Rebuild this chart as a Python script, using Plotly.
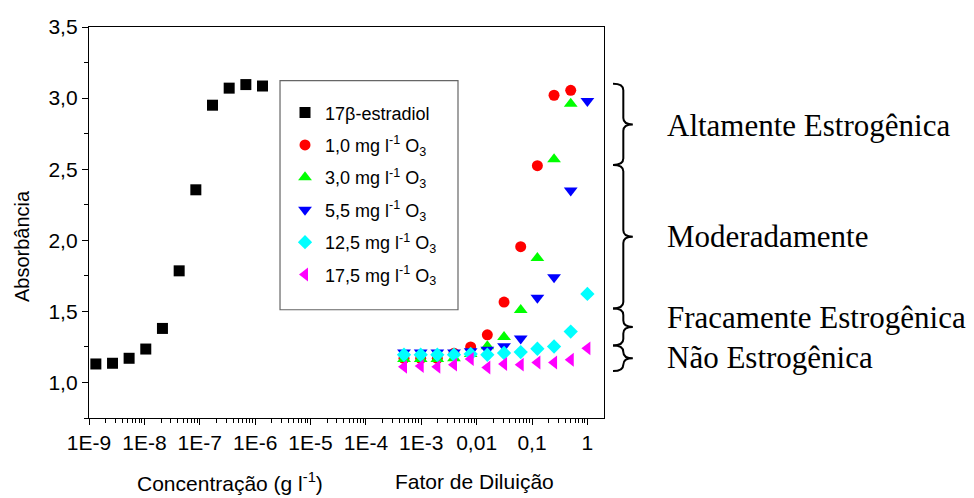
import plotly.graph_objects as go

# ---------------- data ----------------
estradiol_conc = [1.33e-9, 2.66e-9, 5.3e-9, 1.06e-8, 2.12e-8, 4.25e-8,
                  8.5e-8, 1.7e-7, 3.4e-7, 6.8e-7, 1.36e-6]
estradiol_abs = [1.13, 1.135, 1.17, 1.235, 1.38, 1.785,
                 2.355, 2.95, 3.07, 3.095, 3.085]

dilution = [0.000488, 0.000977, 0.00195, 0.0039, 0.0078, 0.0156,
            0.03125, 0.0625, 0.125, 0.25, 0.5, 1.0]
abs_o3_1_0 = [1.17, 1.17, 1.17, 1.205, 1.25, 1.335, 1.565, 1.955, 2.525, 3.02, 3.055]
abs_o3_3_0 = [1.165, 1.165, 1.165, 1.17, 1.20, 1.255, 1.32, 1.51, 1.875, 2.57, 2.96]
abs_o3_5_5 = [1.21, 1.21, 1.21, 1.21, 1.22, 1.23, 1.255, 1.31, 1.595, 1.74, 2.35, 2.98]
abs_o3_12_5 = [1.195, 1.195, 1.195, 1.195, 1.2, 1.195, 1.207, 1.214, 1.237, 1.253, 1.358, 1.623]
abs_o3_17_5 = [1.11, 1.115, 1.11, 1.125, 1.165, 1.105, 1.13, 1.125, 1.14, 1.14, 1.16, 1.24]

series_names = ["17&#946;-estradiol",
                "1,0 mg l<sup>-1</sup> O<sub>3</sub>",
                "3,0 mg l<sup>-1</sup> O<sub>3</sub>",
                "5,5 mg l<sup>-1</sup> O<sub>3</sub>",
                "12,5 mg l<sup>-1</sup> O<sub>3</sub>",
                "17,5 mg l<sup>-1</sup> O<sub>3</sub>"]

x_tickvals = [1e-9, 1e-8, 1e-7, 1e-6, 1e-5, 1e-4, 1e-3, 1e-2, 1e-1, 1]
x_ticktext = ["1E-9", "1E-8", "1E-7", "1E-6", "1E-5", "1E-4", "1E-3", "0,01", "0,1", "1"]

# estrogenicity bands: boundaries (absorbance) and labels with label heights
band_bounds = [(3.10, 2.53), (2.53, 1.52), (1.52, 1.26), (1.26, 1.08)]
band_labels = ["Altamente Estrogênica", "Moderadamente",
               "Fracamente Estrogênica", "Não Estrogênica"]
band_label_y = [2.81, 2.025, 1.46, 1.175]

# ---------------- figure ----------------
fig = go.Figure()

xs = [estradiol_conc, dilution[:11], dilution[:11], dilution, dilution, dilution]
ys = [estradiol_abs, abs_o3_1_0, abs_o3_3_0, abs_o3_5_5, abs_o3_12_5, abs_o3_17_5]
colors = ["#000000", "#FF0000", "#00FF00", "#0000FF", "#00FFFF", "#FF00FF"]
symbols = ["square", "circle", "triangle-up", "triangle-down", "diamond", "triangle-left"]
sizes = [11, 11, 12, 12, 11, 12]

for i in range(6):
    fig.add_trace(go.Scatter(
        x=xs[i], y=ys[i], mode="markers", name=series_names[i],
        legendgroup=f"g{i}",
        marker=dict(symbol=symbols[i], color=colors[i], size=sizes[i],
                    line=dict(width=0)),
    ))

# legend frame
fig.add_shape(type="rect", xref="paper", yref="paper",
              x0=0.3709, x1=0.7165, y0=0.2768, y1=0.8628,
              line=dict(color="#666666", width=1.2), layer="above")

# braces
xc, xv, xt = 1.0175, 1.0375, 1.056
d = 0.045
for (yt, yb) in band_bounds:
    ym = (yt + yb) / 2
    dd = min(d, (yt - yb) / 4)
    path = (f"M {xc},{yt} Q {xv},{yt} {xv},{yt - dd} "
            f"L {xv},{ym + dd} Q {xv},{ym} {xt},{ym} "
            f"Q {xv},{ym} {xv},{ym - dd} "
            f"L {xv},{yb + dd} Q {xv},{yb} {xc},{yb}")
    fig.add_shape(type="path", path=path, xref="paper", yref="y",
                  line=dict(color="black", width=2))

for lab, yl in zip(band_labels, band_label_y):
    fig.add_annotation(x=1.1184, y=yl, xref="paper", yref="y", text=lab,
                       showarrow=False, xanchor="left", yanchor="middle",
                       font=dict(family="Liberation Serif", size=31, color="black"))

# axis titles
fig.add_annotation(x=0.274, y=-0.163, xref="paper", yref="paper",
                   text="Concentração (g l<sup>-1</sup>)", showarrow=False,
                   xanchor="center", yanchor="middle",
                   font=dict(family="Liberation Sans", size=21, color="black"))
fig.add_annotation(x=0.7495, y=-0.163, xref="paper", yref="paper",
                   text="Fator de Diluição", showarrow=False,
                   xanchor="center", yanchor="middle",
                   font=dict(family="Liberation Sans", size=21, color="black"))
fig.add_annotation(x=-0.130, y=0.44, xref="paper", yref="paper",
                   text="Absorbância", showarrow=False, textangle=-90,
                   xanchor="center", yanchor="middle",
                   font=dict(family="Liberation Sans", size=20, color="black"))

fig.update_layout(
    width=974, height=498,
    margin=dict(l=89, r=370, t=27, b=80),
    paper_bgcolor="white", plot_bgcolor="white",
    separators=",.",
    font=dict(family="Liberation Sans", size=21, color="black"),
    showlegend=True,
    legend=dict(x=0.3806, y=0.8577, xanchor="left", yanchor="top",
                borderwidth=0, bgcolor="rgba(0,0,0,0)",
                font=dict(size=18, family="Liberation Sans"),
                title=dict(text=" ", font=dict(size=9)),
                tracegroupgap=6),
    xaxis=dict(type="log", range=[-9, 0.3], tickmode="array",
               tickvals=x_tickvals, ticktext=x_ticktext,
               showgrid=False, zeroline=False,
               showline=True, linecolor="black", linewidth=1.3, mirror=True,
               ticks="outside", ticklen=6, tickwidth=1.3, tickcolor="black",
               minor=dict(ticks="outside", ticklen=4, tickwidth=1, tickcolor="black",
                          dtick="D1", showgrid=False)),
    yaxis=dict(range=[0.75, 3.5], dtick=0.5, tick0=0, tickformat=".1f",
               showgrid=False, zeroline=False,
               showline=True, linecolor="black", linewidth=1.3, mirror=True,
               ticks="outside", ticklen=6, tickwidth=1.3, tickcolor="black",
               minor=dict(ticks="outside", ticklen=4, tickwidth=1, tickcolor="black",
                          dtick=0.25, showgrid=False)),
)

fig.write_html("out.html", config={"displayModeBar": False},
               post_script="document.body.style.margin='0';")
